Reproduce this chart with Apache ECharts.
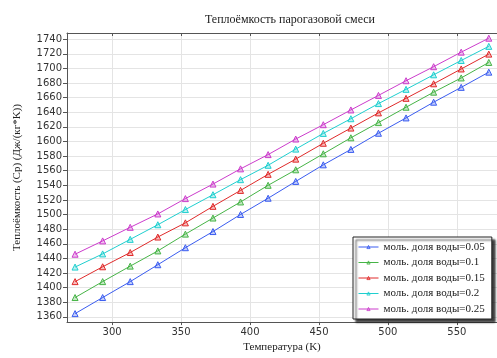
<!DOCTYPE html>
<html>
<head>
<meta charset="utf-8">
<script src="https://cdn.jsdelivr.net/npm/echarts@6/dist/echarts.min.js"></script>
<style>
  html, body { margin: 0; padding: 0; background: #ffffff; }
  #chart { width: 497px; height: 358px; }
</style>
</head>
<body>
<div id="chart"></div>
<script>
// Temperature grid (K) and heat capacity of the gas–vapour mixture, J/(kg*K)
const temperatures = [273.15, 293.15, 313.15, 333.15, 353.15, 373.15, 393.15, 413.15,
                      433.15, 453.15, 473.15, 493.15, 513.15, 533.15, 553.15, 573.15];

const seriesNames = ['моль. доля воды=0.05', 'моль. доля воды=0.1', 'моль. доля воды=0.15',
                     'моль. доля воды=0.2', 'моль. доля воды=0.25'];

const cpWater005 = [1364.4, 1386.4, 1408.2, 1431.3, 1454.6, 1476.7, 1500.1, 1522.3,
                    1545.3, 1568.0, 1589.1, 1611.2, 1632.2, 1653.7, 1674.0, 1694.8];
const cpWater010 = [1386.4, 1408.2, 1429.4, 1450.2, 1473.2, 1495.2, 1517.2, 1540.0,
                    1561.2, 1583.1, 1605.0, 1625.8, 1646.8, 1667.4, 1686.9, 1708.1];
const cpWater015 = [1408.2, 1428.5, 1448.0, 1469.2, 1488.6, 1511.2, 1533.0, 1555.0,
                    1575.8, 1597.5, 1618.3, 1639.1, 1659.0, 1678.9, 1699.2, 1719.5];
const cpWater020 = [1428.1, 1446.1, 1466.0, 1486.0, 1506.8, 1527.1, 1547.7, 1567.4,
                    1589.5, 1611.0, 1631.1, 1651.8, 1671.3, 1691.2, 1710.8, 1730.1];
const cpWater025 = [1445.7, 1463.9, 1482.5, 1500.8, 1521.8, 1541.7, 1562.5, 1582.0,
                    1603.3, 1622.9, 1643.1, 1663.0, 1683.1, 1702.3, 1722.2, 1741.3];

const allValues = [cpWater005, cpWater010, cpWater015, cpWater020, cpWater025];
const lineColors = ['#3a5cf0', '#46b446', '#e02a2a', '#1fcfcf', '#cc3ccc'];
const markerFills = ['rgba(58,92,240,0.3)', 'rgba(70,180,70,0.3)', 'rgba(224,42,42,0.3)',
                     'rgba(31,207,207,0.3)', 'rgba(204,60,204,0.3)'];

const serifFont = '"Liberation Serif", "DejaVu Serif", serif';
const sansFont = '"DejaVu Sans", sans-serif';

const series = allValues.map((vals, i) => ({
  name: seriesNames[i],
  type: 'line',
  data: vals.map((v, j) => [temperatures[j], v]),
  symbol: 'triangle',
  symbolSize: 6,
  showSymbol: true,
  lineStyle: { color: lineColors[i], width: 1 },
  itemStyle: { color: markerFills[i], borderColor: lineColors[i], borderWidth: 1 },
  emphasis: { disabled: true },
  animation: false
}));

const plainNumber = v => String(Math.round(v));

const chart = echarts.init(document.getElementById('chart'), null, { renderer: 'canvas' });

chart.setOption({
  backgroundColor: '#ffffff',
  animation: false,
  title: {
    text: 'Теплоёмкость парогазовой смеси',
    left: 285,
    top: 9,
    textAlign: 'center',
    textStyle: { fontFamily: serifFont, fontSize: 12, fontWeight: 'normal', color: '#222' }
  },
  grid: { left: 67, top: 33, width: 439, height: 298, containLabel: false },
  xAxis: [
    {
      type: 'value',
      min: 267.3,
      max: 579.1,
      splitNumber: 6,
      name: 'Температура (K)',
      nameLocation: 'middle',
      nameGap: 19,
      nameTextStyle: { fontFamily: serifFont, fontSize: 11, color: '#222' },
      axisLine: { show: true, lineStyle: { color: '#555', width: 1 } },
      axisTick: { show: true, inside: false, length: 3, lineStyle: { color: '#555' } },
      axisLabel: { showMinLabel: false, showMaxLabel: false, margin: 5, formatter: plainNumber,
                   fontFamily: sansFont, fontSize: 10, color: '#333' },
      splitLine: { show: true, lineStyle: { color: '#e4e4e4', width: 1 } }
    },
    {
      type: 'value',
      position: 'top',
      min: 267.3,
      max: 579.1,
      splitNumber: 6,
      axisLine: { show: true, lineStyle: { color: '#555', width: 1 } },
      axisTick: { show: true, inside: true, length: 3, lineStyle: { color: '#555' } },
      axisLabel: { show: false },
      splitLine: { show: false }
    }
  ],
  yAxis: [
    {
      type: 'value',
      min: 1352.8,
      max: 1748.4,
      splitNumber: 20,
      name: 'Теплоёмкость (Cp) (Дж/(кг*K))',
      nameLocation: 'middle',
      nameGap: 44,
      nameTextStyle: { fontFamily: serifFont, fontSize: 11, color: '#222' },
      axisLine: { show: true, lineStyle: { color: '#555', width: 1 } },
      axisTick: { show: true, inside: false, length: 4, lineStyle: { color: '#555' } },
      axisLabel: { showMinLabel: false, showMaxLabel: false, margin: 5, formatter: plainNumber,
                   fontFamily: sansFont, fontSize: 10, color: '#333' },
      splitLine: { show: true, lineStyle: { color: '#e4e4e4', width: 1 } }
    },
    {
      type: 'value',
      position: 'right',
      min: 1352.8,
      max: 1748.4,
      axisLine: { show: true, lineStyle: { color: '#555', width: 1 } },
      axisTick: { show: false },
      axisLabel: { show: false },
      splitLine: { show: false }
    }
  ],
  legend: {
    orient: 'vertical',
    left: 353,
    top: 237,
    width: 143,
    padding: [4, 7, 4, 5],
    itemGap: 3.5,
    itemWidth: 20,
    itemHeight: 4,
    itemStyle: { borderWidth: 0.8 },
    lineStyle: { width: 1 },
    backgroundColor: '#ffffff',
    borderColor: '#222',
    borderWidth: 1,
    borderRadius: 0,
    shadowColor: 'rgba(0,0,0,0.75)',
    shadowBlur: 2,
    shadowOffsetX: 3,
    shadowOffsetY: 3,
    selectedMode: false,
    textStyle: { fontFamily: serifFont, fontSize: 11, color: '#222', lineHeight: 12 },
    data: seriesNames
  },
  series: series
});
</script>
</body>
</html>
